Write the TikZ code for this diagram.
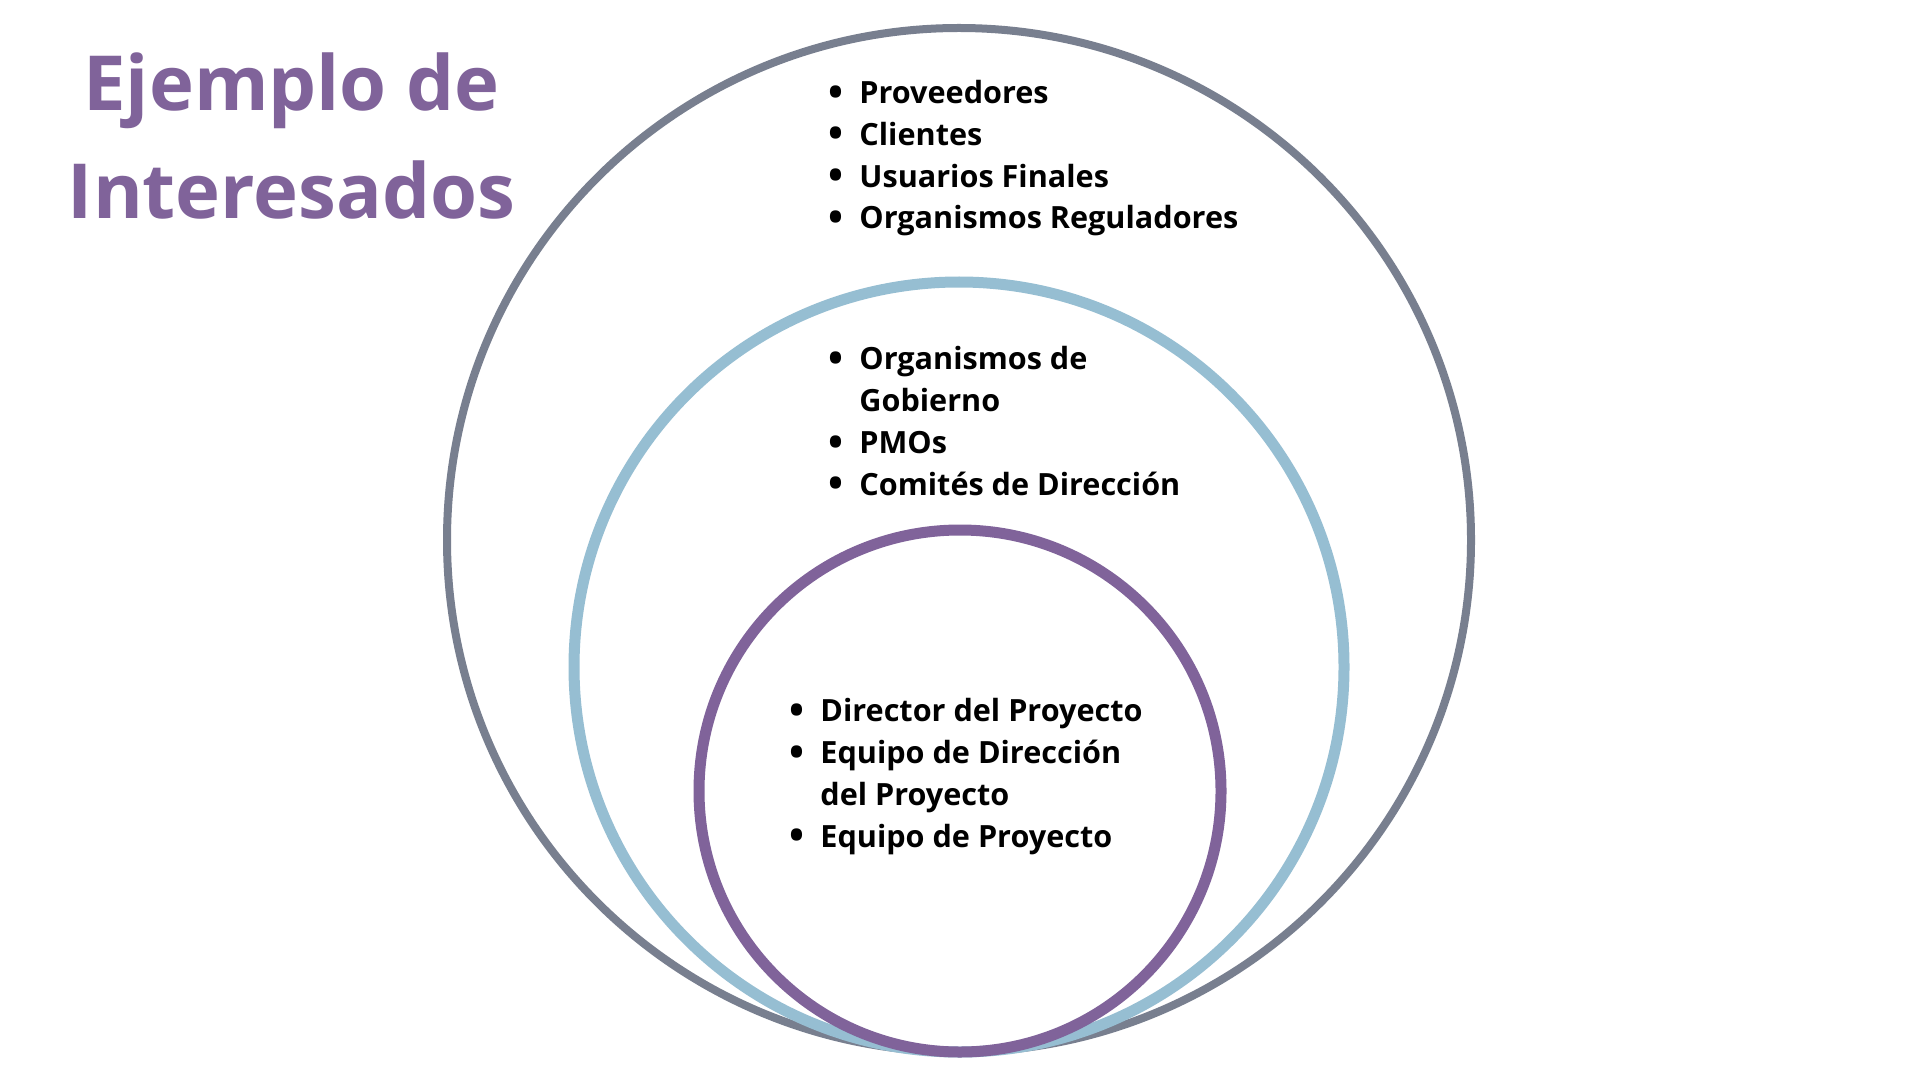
\documentclass[tikz,border=0pt]{standalone}
\usepackage{fontspec}
\setmainfont{Open Sans}
\usetikzlibrary{positioning}
\definecolor{morado}{HTML}{80639A}
\definecolor{gris}{HTML}{787F8F}
\definecolor{celeste}{HTML}{96BED2}
\tikzset{
  anillo/.style={draw,circle,inner sep=0pt},
  lista/.style={anchor=base west,inner sep=0pt,font=\fontsize{15.3pt}{20.9pt}\selectfont\bfseries},
  rotulo/.style={anchor=base,inner sep=0pt,text=morado,font=\fontsize{38pt}{53.8pt}\selectfont\bfseries}
}
\newcommand{\itm}{\llap{\makebox[0pt]{\raisebox{-1.3pt}{\scalebox{1.3}{•}}}\hspace{11.5pt}}}

\begin{document}
\begin{tikzpicture}[x=0.5pt,y=-0.5pt]
\useasboundingbox (0,0) rectangle (1920,1080);
\fill[white] (0,0) rectangle (1920,1080);
% anillos, de fuera a dentro
\node[anillo,gris,line width=4pt,minimum size=512pt] (externo) at (959,540) {};
\node[anillo,celeste,line width=5.5pt,minimum size=385pt] (medio) at (959,667) {};
\node[anillo,morado,line width=5.5pt,minimum size=261pt] (interno) at (960,791) {};
\node[rotulo] (titulo) at (291.6,111) {\begin{tabular}[t]{@{}c@{}}Ejemplo de\\Interesados\end{tabular}};
\node[lista] (externos) at (859,103.5) {\begin{tabular}[t]{@{}l@{}}
\itm Proveedores\\ \itm Clientes\\ \itm Usuarios Finales\\ \itm Organismos Reguladores
\end{tabular}};
\node[lista] (gobierno) at (859,369.8) {\begin{tabular}[t]{@{}l@{}}
\itm Organismos de\\ Gobierno\\ \itm PMOs\\ \itm Comités de Dirección
\end{tabular}};
\node[lista] (equipo) at (820,721.7) {\begin{tabular}[t]{@{}l@{}}
\itm Director del Proyecto\\ \itm Equipo de Dirección\\ del Proyecto\\ \itm Equipo de Proyecto
\end{tabular}};
\end{tikzpicture}
\end{document}
